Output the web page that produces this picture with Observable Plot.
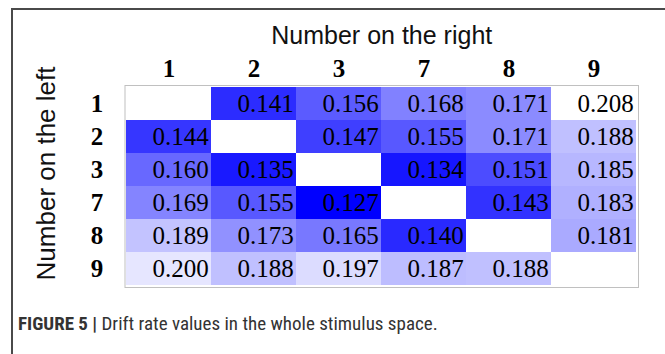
<!DOCTYPE html>
<html>
<head>
<meta charset="utf-8">
<script src="https://cdn.jsdelivr.net/npm/d3@7"></script>
<script src="https://cdn.jsdelivr.net/npm/@observablehq/plot@0.6"></script>
<style>
  html, body { margin: 0; padding: 0; background: #fff; }
  body { width: 665px; height: 354px; position: relative; overflow: hidden; }
  #frame { position: absolute; left: 11px; top: 8px; width: 660px; height: 360px;
           border-left: 2px solid #4a4a4a; border-top: 2px solid #4a4a4a; }
  #chart { position: absolute; left: 0; top: 0; }
  #caption { position: absolute; left: 18px; top: 312px; font-family: "Liberation Sans Narrow", "Roboto Condensed", "Liberation Sans", Arial, sans-serif;
             font-stretch: condensed; font-size: 19px; color: #333; white-space: nowrap; }
  #caption b { font-weight: bold; }
</style>
</head>
<body>
<div id="frame"></div>
<div id="chart"></div>
<div id="caption"><b>FIGURE 5 |</b> Drift rate values in the whole stimulus space.</div>
<script>
const colLabels = ["1", "2", "3", "7", "8", "9"];
const rowLabels = ["1", "2", "3", "7", "8", "9"];
const row1 = [null, 0.141, 0.156, 0.168, 0.171, 0.208];
const row2 = [0.144, null, 0.147, 0.155, 0.171, 0.188];
const row3 = [0.160, 0.135, null, 0.134, 0.151, 0.185];
const row7 = [0.169, 0.155, 0.127, null, 0.143, 0.183];
const row8 = [0.189, 0.173, 0.165, 0.140, null, 0.181];
const row9 = [0.200, 0.188, 0.197, 0.187, 0.188, null];
const xTitle = "Number on the right";
const yTitle = "Number on the left";

const rowsData = [row1, row2, row3, row7, row8, row9];
const cells = [];
rowsData.forEach((vals, i) => vals.forEach((v, j) => {
  if (v != null) cells.push({row: rowLabels[i], col: colLabels[j], value: v});
}));

const W = 665, H = 300, mL = 124.5, mR = 27, mT = 85, mB = 13;
const bw = (W - mL - mR) / colLabels.length;
const fmt = d3.format(".3f");
const serif = "Liberation Serif, Times New Roman, serif";
const sans = "Liberation Sans, Arial, sans-serif";

const chart = Plot.plot({
  width: W, height: H,
  marginLeft: mL, marginRight: mR, marginTop: mT, marginBottom: mB,
  style: {background: "transparent"},
  x: {type: "band", domain: colLabels, padding: 0, axis: null},
  y: {type: "band", domain: rowLabels, padding: 0, axis: null},
  color: {type: "linear", domain: [0.208, 0.127], range: ["#ffffff", "#0000ff"], interpolate: "rgb"},
  marks: [
    Plot.frame({stroke: "#c0c0c0", strokeWidth: 1}),
    Plot.cell(cells, {x: "col", y: "row", fill: "value", inset: 0}),
    Plot.text(cells, {x: "col", y: "row", text: d => fmt(d.value), textAnchor: "end", dx: bw / 2 - 3,
      fontFamily: serif, fontSize: 25, fill: "#000"}),
    Plot.text(colLabels, {x: d => d, frameAnchor: "top", dy: -17, lineAnchor: "middle",
      fontFamily: serif, fontWeight: "bold", fontSize: 25, fill: "#000"}),
    Plot.text(rowLabels, {y: d => d, frameAnchor: "left", dx: -28, textAnchor: "middle",
      fontFamily: serif, fontWeight: "bold", fontSize: 25, fill: "#000"}),
    Plot.text([xTitle], {frameAnchor: "top", dy: -50, lineAnchor: "middle",
      fontFamily: sans, fontSize: 25, fill: "#111"}),
    Plot.text([yTitle], {frameAnchor: "left", dx: -78, dy: -13, rotate: -90, textAnchor: "middle", lineAnchor: "middle",
      fontFamily: sans, fontSize: 26, fill: "#111"})
  ]
});
document.getElementById("chart").appendChild(chart);
</script>
</body>
</html>
